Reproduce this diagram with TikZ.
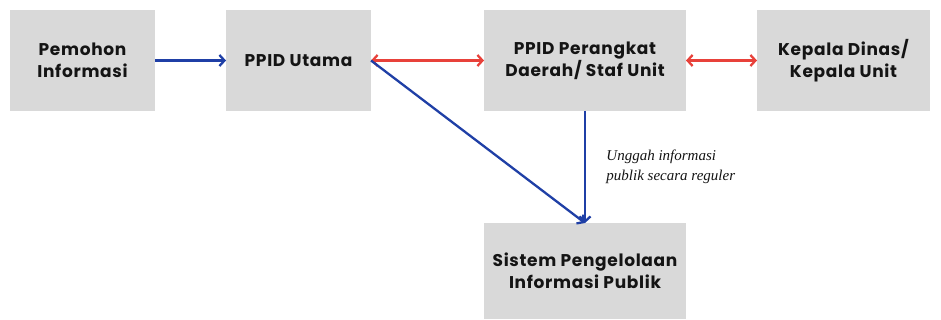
\documentclass[tikz,border=0pt]{standalone}
\usepackage{fontspec}
\setmainfont{Liberation Serif}
\newfontfamily\boxfont{Poppins}[LetterSpace=4]
\usetikzlibrary{arrows.meta, positioning}
\definecolor{boxgray}{HTML}{D9D9D9}
\definecolor{flowblue}{HTML}{1F3FA6}
\definecolor{flowred}{HTML}{E8413A}
\definecolor{inkblack}{HTML}{141414}

\begin{document}
\begin{tikzpicture}[
    x=1pt, y=1pt,
    node distance=71pt,
    unit/.style={
        fill=boxgray, rectangle, outer sep=0pt, inner sep=4pt,
        align=center, text=inkblack,
        font=\boxfont\bfseries\fontsize{17}{22}\selectfont,
        minimum width=#1, minimum height=101pt,
    },
    unit/.default=145pt,
    flow/.style={-{Straight Barb[length=5pt, width=11pt]}, line width=2.3pt, draw=flowblue},
    link/.style={{Straight Barb[length=5pt, width=11pt]}-{Straight Barb[length=5pt, width=11pt]}, line width=2.3pt, draw=flowred},
]
\fill[white] (0,0) rectangle (941,-320);
\useasboundingbox (0,0) rectangle (941,-320);

\node[unit] (pemohon) at (82.5,-60.5) {Pemohon\\Informasi};
\node[unit, right=71pt of pemohon] (utama) {PPID Utama};
\node[unit=202pt, right=113pt of utama] (perangkat) {PPID Perangkat\\Daerah/ Staf Unit};
\node[unit=173pt, right=71pt of perangkat] (kepala) {Kepala Dinas/\\Kepala Unit};
\node[unit=202pt, minimum height=96pt, below=112pt of perangkat] (sistem) {Sistem Pengelolaan\\Informasi Publik};

\draw[flow] (pemohon) -- (utama);
\draw[link] (utama) -- (perangkat);
\draw[link] (perangkat) -- (kepala);
\draw[flow] (utama.east) -- (sistem.north);
\draw[flow] (perangkat) -- node[right=17pt, align=left, text=inkblack,
    font=\itshape\fontsize{15}{20}\selectfont] {Unggah informasi\\publik secara reguler} (sistem);

\end{tikzpicture}
\end{document}
